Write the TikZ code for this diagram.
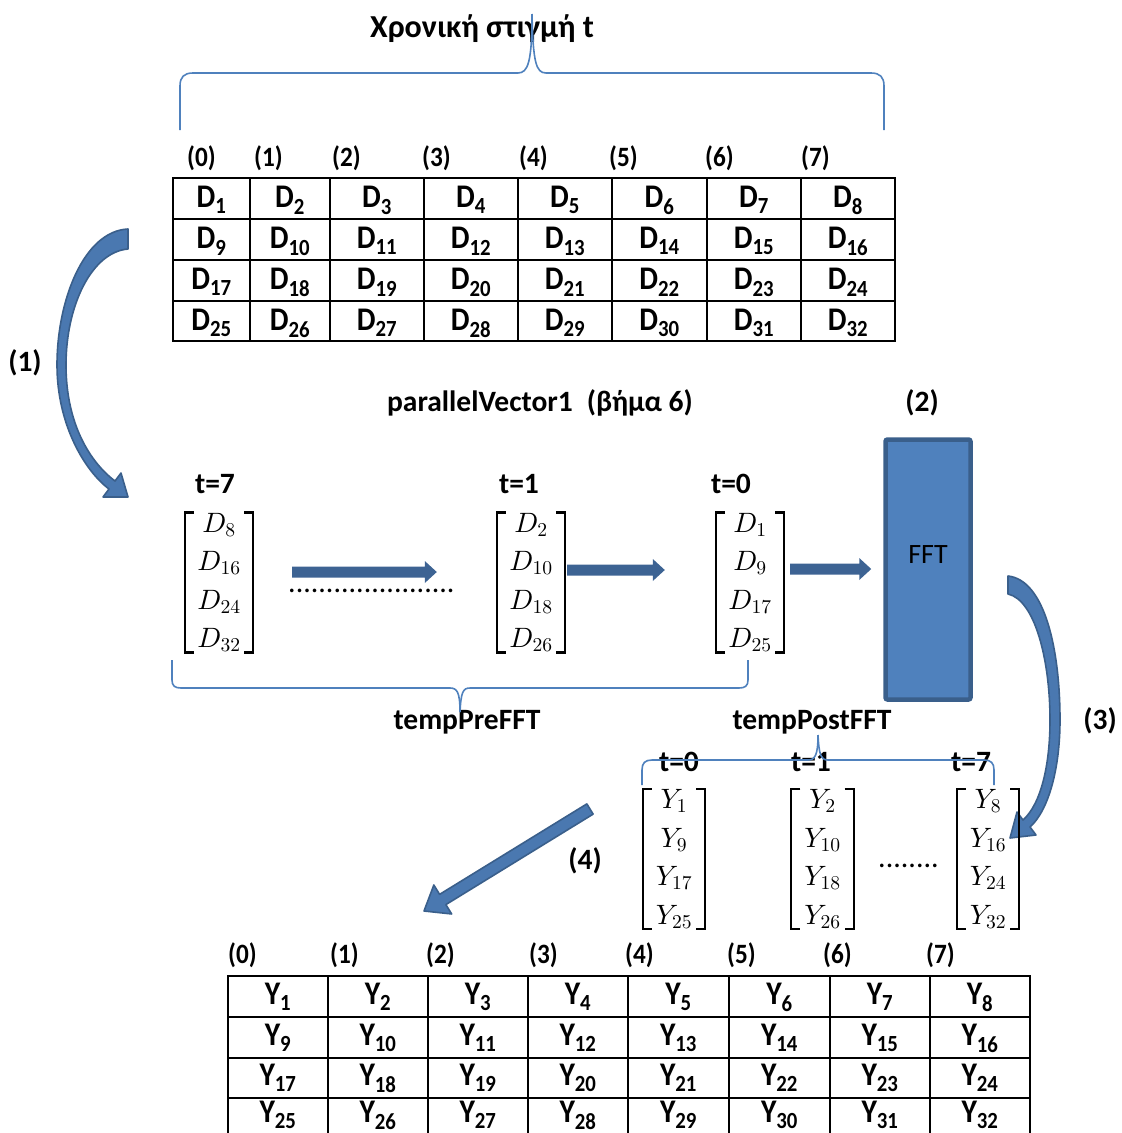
\documentclass[tikz,border=0pt]{standalone}
\usepackage[no-math]{fontspec}
\setmainfont{Carlito}
\newfontfamily\narrowfont[FakeStretch=0.9]{Carlito}
\usetikzlibrary{calc}
% freely scalable math letters and digits for the column vectors
\DeclareFontShape{OML}{cmm}{m}{it}{<-> cmmi10}{}
\DeclareFontShape{OT1}{cmr}{m}{n}{<-> cmr10}{}

\definecolor{bracecol}{HTML}{4F81BD}
\definecolor{boxfill}{HTML}{4F81BD}
\definecolor{boxedge}{HTML}{3A5F8B}
\definecolor{arrowdark}{HTML}{3D6393}
\definecolor{arrowfill}{HTML}{4A78B0}

\tikzset{
  cell/.style={font=\narrowfont\fontsize{33}{38}\selectfont\bfseries, anchor=base, inner sep=0pt},
  idx/.style={font=\narrowfont\fontsize{28}{32}\selectfont\bfseries, anchor=base west, inner sep=0pt},
  lbl/.style={font=\fontsize{29.5}{34}\selectfont\bfseries, anchor=base, inner sep=0pt},
  dotrow/.style={font=\fontsize{30}{36}\selectfont, anchor=base, inner sep=0pt},
  gridline/.style={line width=2.4pt, black},
  bracebar/.style={draw=bracecol, line width=1.6pt},
  vecbody/.style={inner xsep=0pt, inner ysep=0.5pt, align=center,
                  font=\fontsize{28}{38.5}\selectfont},
  vbrack/.style={line width=2.2pt, line join=miter},
  fftbox/.style={fill=boxfill, draw=boxedge, line width=4.5pt, rounded corners=2pt,
                 minimum width=85pt, minimum height=260pt},
  flatarrow/.style={fill=arrowdark},
  bentarrow/.style={fill=arrowfill, draw=boxedge, line width=1.6pt, line join=round},
}

% column vector: name, x, y, width, entries
\newcommand\colvec[5]{%
  \node[vecbody, minimum width=#4] (#1) at (#2,#3) {#5};
  \draw[vbrack] ([xshift=9pt]#1.north west) -- (#1.north west) -- (#1.south west) -- ([xshift=9pt]#1.south west);
  \draw[vbrack] ([xshift=-9pt]#1.north east) -- (#1.north east) -- (#1.south east) -- ([xshift=-9pt]#1.south east);
}

% straight block arrow: style, from, to, shaft half width, head length, head half width
\newcommand\blockarrow[6]{%
  \coordinate (bas) at (#2);
  \coordinate (bat) at (#3);
  \coordinate (bac) at ($(bat)!#5!(bas)$);
  \path[#1] ($(bas)!#4!90:(bat)$) -- ($(bac)!#4!-90:(bas)$) -- ($(bac)!#6!-90:(bas)$)
     -- (bat) -- ($(bac)!#6!90:(bas)$) -- ($(bac)!#4!90:(bas)$) -- ($(bas)!#4!-90:(bat)$) -- cycle;
}

\begin{document}
\begin{tikzpicture}[x=1pt, y=-1pt]
\useasboundingbox (0,0) rectangle (1122,1133);

% ---------- title and top brace ----------
\node[lbl, font=\fontsize{32}{38}\selectfont\bfseries] (title) at (482,37) {Χρονική στιγμή t};
\draw[bracebar] (180,130) -- (180,86) .. controls (180,77) and (184,73) .. (193,73) -- (518,73)
   .. controls (528,73) and (532,62) .. (532,14);
\draw[bracebar] (532,14) .. controls (533,62) and (536,73) .. (546,73) -- (871,73)
   .. controls (880,73) and (884,77) .. (884,86) -- (884,130);

% ---------- input table D ----------
\foreach \x [count=\c from 0] in {187,254,332,422,519,609,705,801}
  \node[idx] (ti\c) at (\x,166) {(\c)};
\draw[gridline] (173,178) rectangle (895,341);
\foreach \x in {250,330,424,518,612,707,801} \draw[gridline] (\x,178) -- (\x,341);
\foreach \y in {219,260,301} \draw[gridline] (173,\y) -- (895,\y);
\foreach \xa/\xb [count=\c from 0] in {173/250,250/330,330/424,424/518,518/612,612/707,707/801,801/895} {
  \foreach \ya/\yb [count=\r from 0] in {178/219,219/260,260/301,301/341} {
    \pgfmathtruncatemacro\k{8*\r+\c+1}
    \node[cell] (d\k) at ({(\xa+\xb)/2},{(\ya+\yb)/2+9}) {D\textsubscript{\k}};
  }
}

% ---------- step (1) ----------
\node[lbl] (s1) at (25,371) {(1)};
\path[bentarrow] (128,229) .. controls (84,231) and (57,300) .. (57,365)
   .. controls (57,425) and (85,471) .. (109,489) -- (103,497) -- (128,497) -- (121,473)
   -- (115,481) .. controls (91,463) and (66,425) .. (66,365)
   .. controls (66,305) and (92,252) .. (128,249) -- cycle;

% ---------- parallelVector1 ----------
\node[lbl] (pv) at (540,411) {parallelVector1\hspace{14pt}(βήμα 6)};
\node[lbl] (s2) at (922,411) {(2)};

\node[lbl] (t7a) at (215,493) {t=7};
\node[lbl] (t1a) at (519,493) {t=1};
\node[lbl] (t0a) at (731,493) {t=0};

\colvec{v7}{219}{582.5}{68pt}{$D_{8}$\\$D_{16}$\\$D_{24}$\\$D_{32}$}
\colvec{v1}{531}{582.5}{68pt}{$D_{2}$\\$D_{10}$\\$D_{18}$\\$D_{26}$}
\colvec{v0}{750}{582.5}{68pt}{$D_{1}$\\$D_{9}$\\$D_{17}$\\$D_{25}$}

% FFT block
\node[fftbox] (fft) at (928,569.5) {};
\node[font=\fontsize{28}{34}\selectfont, anchor=base, inner sep=0pt] (fftlabel) at (928,563) {FFT};

% data flow into the FFT
\blockarrow{flatarrow}{[xshift=39pt,yshift=10.5pt]v7.east}{[xshift=-60pt,yshift=10.5pt]v1.west}{5.5pt}{12pt}{11pt}
\node[dotrow] (gap) at (371.5,592) {......................};
\blockarrow{flatarrow}{[xshift=2pt,yshift=12.5pt]v1.east}{[xshift=-51pt,yshift=12.5pt]v0.west}{5.5pt}{12pt}{11pt}
\blockarrow{flatarrow}{[xshift=6pt,yshift=13.5pt]v0.east}{[xshift=-12pt,yshift=0.5pt]fft.west}{5.5pt}{12pt}{11pt}

% tempPreFFT brace
\node[lbl] (tpre) at (467,729) {tempPreFFT};
\draw[bracebar] (172,660) -- (172,680) .. controls (172,686) and (175,688) .. (181,688) -- (450,688)
   .. controls (457,688) and (460,692) .. (460,712);
\draw[bracebar] (460,712) .. controls (461,692) and (463,688) .. (470,688) -- (739,688)
   .. controls (745,688) and (748,686) .. (748,680) -- (748,660);

% ---------- step (3) ----------
\node[lbl] (s3) at (1100,729) {(3)};
\path[bentarrow] (1008,576) .. controls (1045,580) and (1060,650) .. (1060,720)
   .. controls (1060,770) and (1048,811) .. (1030,827) -- (1036,835) -- (1010,838) -- (1017,812)
   -- (1023,820) .. controls (1041,804) and (1050,765) .. (1050,720)
   .. controls (1050,660) and (1035,600) .. (1008,594) -- cycle;

% ---------- tempPostFFT ----------
\node[lbl] (tpost) at (812,729) {tempPostFFT};
\node[lbl] (t0b) at (679,771) {t=0};
\node[lbl] (t1b) at (811,771) {t=1};
\node[lbl] (t7b) at (971,771) {t=7};
\draw[bracebar] (642,785) -- (642,770) .. controls (642,763) and (645,760) .. (652,760) -- (808,760)
   .. controls (815,760) and (818,755) .. (818,735);
\draw[bracebar] (818,735) .. controls (819,755) and (821,760) .. (828,760) -- (984,760)
   .. controls (991,760) and (994,763) .. (994,770) -- (994,785);

\colvec{y0}{674}{859}{62pt}{$Y_{1}$\\$Y_{9}$\\$Y_{17}$\\$Y_{25}$}
\colvec{y1}{822.5}{859}{62pt}{$Y_{2}$\\$Y_{10}$\\$Y_{18}$\\$Y_{26}$}
\colvec{y7}{988}{859}{62pt}{$Y_{8}$\\$Y_{16}$\\$Y_{24}$\\$Y_{32}$}
\node[dotrow] (gapb) at (908.5,867) {........};

% ---------- step (4) ----------
\node[lbl] (s4) at (585,869) {(4)};
\coordinate (a4from) at (590,809);
\coordinate (a4to) at (424,911);
\blockarrow{bentarrow}{a4from}{a4to}{6pt}{22pt}{17pt}

% ---------- output table Y ----------
\foreach \x [count=\c from 0] in {228,330,426,529,625,727,823,926}
  \node[idx] (bi\c) at (\x,963) {(\c)};
\draw[gridline] (228,976) rectangle (1030,1139);
\foreach \x in {328,428,528,628,729,830,930} \draw[gridline] (\x,976) -- (\x,1139);
\foreach \y in {1017,1058,1098} \draw[gridline] (228,\y) -- (1030,\y);
\foreach \xa/\xb [count=\c from 0] in {228/328,328/428,428/528,528/628,628/729,729/830,830/930,930/1030} {
  \foreach \ya/\yb/\yt [count=\r from 0] in {976/1017/1004,1017/1058/1045,1058/1098/1085,1098/1139/1122} {
    \pgfmathtruncatemacro\k{8*\r+\c+1}
    \node[cell] (y\k) at ({(\xa+\xb)/2},\yt) {Y\textsubscript{\k}};
  }
}
\end{tikzpicture}
\end{document}
